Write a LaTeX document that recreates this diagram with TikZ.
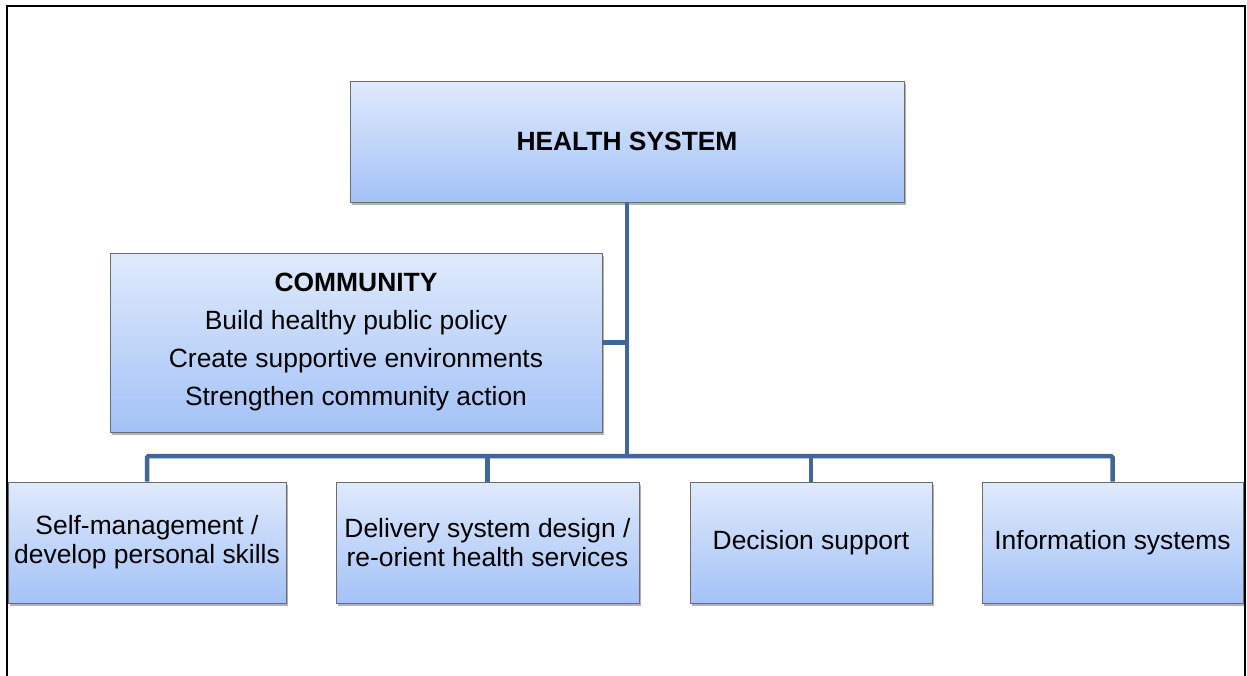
\documentclass[tikz,border=0pt]{standalone}
\usepackage{fontspec}
\setmainfont{Liberation Sans}
\usetikzlibrary{shadows}
\definecolor{topblue}{RGB}{224,234,252}
\definecolor{botblue}{RGB}{163,194,247}
\definecolor{linkblue}{RGB}{64,103,151}

\begin{document}
\begin{tikzpicture}[x=1pt,y=-1pt,
    box/.style={draw=gray!85!black,line width=0.8pt,top color=topblue,bottom color=botblue,
      drop shadow={shadow xshift=2pt,shadow yshift=-2.5pt,fill=black,opacity=0.3},
      align=center,inner sep=0pt,font=\fontsize{26.4}{29}\selectfont},
    link/.style={draw=linkblue,line width=4.5pt,rounded corners=1.5pt}]
  \useasboundingbox (0,0) rectangle (1247,675);
  \draw[line width=2pt] (7,680) -- (7,6) -- (1244.5,6) -- (1244.5,680);

  \node[box,minimum width=554pt,minimum height=121pt] (health) at (627,141.5)
    {\textbf{HEALTH SYSTEM}};
  \node[box,minimum width=492pt,minimum height=179pt] (community) at (356,342.5)
    {\textbf{COMMUNITY}\\[9pt]Build healthy public policy\\[9pt]Create supportive environments\\[9pt]Strengthen community action};
  \foreach \name/\xpos/\boxw/\txt in
{{selfmgmt/147/278/{Self-management /\\develop personal skills}},
 {delivery/487.5/303/{Delivery system design /\\re-orient health services}},
 {decision/811/242/{Decision support}},
 {info/1112.5/261/{Information systems}}}
    \node[box,minimum width=\boxw pt,minimum height=121pt] (\name) at (\xpos,542.5) {\txt};

  \coordinate (hub) at (health.south |- 0,456);
  \draw[link] (health.south) -- (hub);
  \draw[link] (community.east) -- (community.east -| hub);
  \draw[link] (selfmgmt.north) |- (info.north |- hub) -- (info.north);
  \foreach \tgt in {delivery,decision}
    \draw[link] (\tgt.north) -- (\tgt.north |- hub);
\end{tikzpicture}
\end{document}
